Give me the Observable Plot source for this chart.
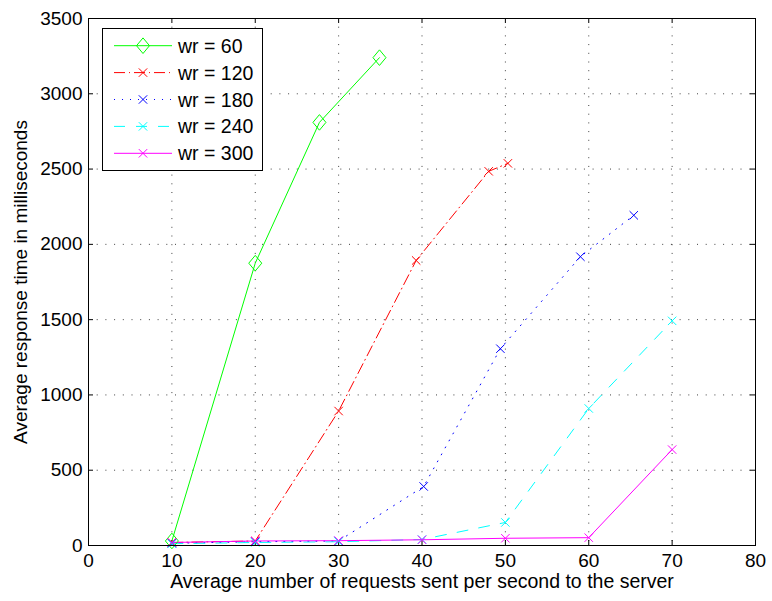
<!DOCTYPE html>
<html>
<head>
<meta charset="utf-8">
<script src="https://cdn.jsdelivr.net/npm/d3@7"></script>
<script src="https://cdn.jsdelivr.net/npm/@observablehq/plot@0.6"></script>
<style>
  html, body { margin: 0; padding: 0; background: #fff; }
  #wrap { position: relative; width: 772px; height: 601px; }
  #legend { position: absolute; left: 0; top: 0; pointer-events: none; }
</style>
</head>
<body>
<div id="wrap"></div>
<script>
// ---- data ----
const seriesNames = ["wr = 60", "wr = 120", "wr = 180", "wr = 240", "wr = 300"];
const seriesColors = ["#00ff00", "#ff0000", "#0000ff", "#00ffff", "#ff00ff"];
const seriesDash = [null, "11,4,1,4", "1,7", "11,11", null];
const seriesMarker = ["diamond", "x", "x", "x", "x"];

const wr60x = [10, 20, 27.7, 34.9];
const wr60y = [30, 1875, 2810, 3240];
const wr120x = [10, 20, 30, 39.3, 48, 50.3];
const wr120y = [20, 30, 893, 1893, 2485, 2538];
const wr180x = [10, 20, 30, 40.2, 49.4, 59, 65.4];
const wr180y = [15, 25, 30, 392, 1307, 1918, 2193];
const wr240x = [10, 20, 30, 40, 50, 60, 70];
const wr240y = [12, 20, 25, 40, 153, 910, 1492];
const wr300x = [10, 20, 30, 40, 50, 60, 70];
const wr300y = [20, 30, 32, 38, 48, 52, 637];

const xTicks = [0, 10, 20, 30, 40, 50, 60, 70, 80];
const yTicks = [0, 500, 1000, 1500, 2000, 2500, 3000, 3500];
const xLabel = "Average number of requests sent per second to the server";
const yLabel = "Average response time in milliseconds";

const xsAll = [wr60x, wr120x, wr180x, wr240x, wr300x];
const ysAll = [wr60y, wr120y, wr180y, wr240y, wr300y];

const series = seriesNames.map((name, i) => ({
  name, color: seriesColors[i], dash: seriesDash[i], marker: seriesMarker[i],
  points: xsAll[i].map((x, j) => ({x, y: ysAll[i][j], name}))
}));

// ---- custom marker symbols ----
const diamondSym = { draw(ctx) { const w = 6.5, h = 7.8; ctx.moveTo(0, -h); ctx.lineTo(w, 0); ctx.lineTo(0, h); ctx.lineTo(-w, 0); ctx.closePath(); } };
const crossSym = { draw(ctx) { const s = 4.2; ctx.moveTo(-s, -s); ctx.lineTo(s, s); ctx.moveTo(-s, s); ctx.lineTo(s, -s); } };
const symFor = m => m === "diamond" ? diamondSym : crossSym;

// ---- layout ----
const W = 772, H = 601, ML = 88, MR = 17, MT = 18, MB = 56;
const PW = W - ML - MR, PH = H - MT - MB;
const TICK = 5;
const FONT = "'Liberation Sans', Arial, sans-serif";

const marks = [
  Plot.gridX(xTicks, {stroke: "#000", strokeOpacity: 0.75, strokeDasharray: "1,7.7", strokeWidth: 1}),
  Plot.gridY(yTicks, {stroke: "#000", strokeOpacity: 0.75, strokeDasharray: "1,7.7", strokeWidth: 1}),
  // inward tick marks on all four sides
  Plot.tickX(xTicks, {x: d => d, stroke: "#000", insetTop: PH - TICK}),
  Plot.tickX(xTicks, {x: d => d, stroke: "#000", insetBottom: PH - TICK}),
  Plot.tickY(yTicks, {y: d => d, stroke: "#000", insetRight: PW - TICK}),
  Plot.tickY(yTicks, {y: d => d, stroke: "#000", insetLeft: PW - TICK}),
  Plot.axisX(xTicks, {anchor: "bottom", tickSize: 0, tickPadding: 8, label: null, tickFormat: d3.format("d")}),
  Plot.axisY(yTicks, {anchor: "left", tickSize: 0, tickPadding: 6, label: null, tickFormat: d3.format("d")}),
];
for (const s of series) {
  marks.push(Plot.line(s.points, {x: "x", y: "y", stroke: s.color, strokeWidth: 1, strokeDasharray: s.dash || undefined}));
}
for (const s of series) {
  marks.push(Plot.dot(s.points, {x: "x", y: "y", stroke: s.color, fill: "none", strokeWidth: 1, symbol: symFor(s.marker), r: 5}));
}
marks.push(Plot.frame({stroke: "#000", strokeWidth: 1}));
marks.push(Plot.text([xLabel], {frameAnchor: "bottom", textAnchor: "middle", text: d => d, dy: 29, fontSize: 19.5, lineAnchor: "top"}));
marks.push(Plot.text([yLabel], {frameAnchor: "left", textAnchor: "middle", text: d => d, dx: -68, rotate: -90, fontSize: 19, lineAnchor: "middle"}));

const chart = Plot.plot({
  width: W, height: H,
  marginLeft: ML, marginRight: MR, marginTop: MT, marginBottom: MB,
  style: {fontFamily: FONT, fontSize: "19px", color: "#000", background: "#fff", overflow: "visible"},
  x: {domain: [0, 80], ticks: xTicks, label: null},
  y: {domain: [0, 3500], ticks: yTicks, label: null},
  marks
});
const wrap = document.getElementById("wrap");
wrap.appendChild(chart);

// ---- legend (overlaid inside the axes, top-left) ----
const LX = 102, LY = 28, LW = 160, LH = 142, rowH = 26.9, row0 = 17.7;
const leg = d3.select(wrap).append("svg").attr("id", "legend").attr("width", W).attr("height", H)
  .style("font-family", FONT);
leg.append("rect").attr("x", LX + 0.5).attr("y", LY + 0.5).attr("width", LW).attr("height", LH)
  .attr("fill", "#fff").attr("stroke", "#000").attr("stroke-width", 1);
series.forEach((s, i) => {
  const cy = LY + row0 + i * rowH;
  const g = leg.append("g");
  g.append("line").attr("x1", LX + 12).attr("x2", LX + 70).attr("y1", cy).attr("y2", cy)
    .attr("stroke", s.color).attr("stroke-width", 1).attr("stroke-dasharray", s.dash);
  const p = d3.path(); symFor(s.marker).draw(p);
  g.append("path").attr("d", p.toString()).attr("transform", `translate(${LX + 41},${cy})`)
    .attr("fill", "none").attr("stroke", s.color).attr("stroke-width", 1);
  g.append("text").attr("x", LX + 76).attr("y", cy).attr("dy", "0.36em").attr("font-size", 19.5)
    .text(s.name);
});
</script>
</body>
</html>
